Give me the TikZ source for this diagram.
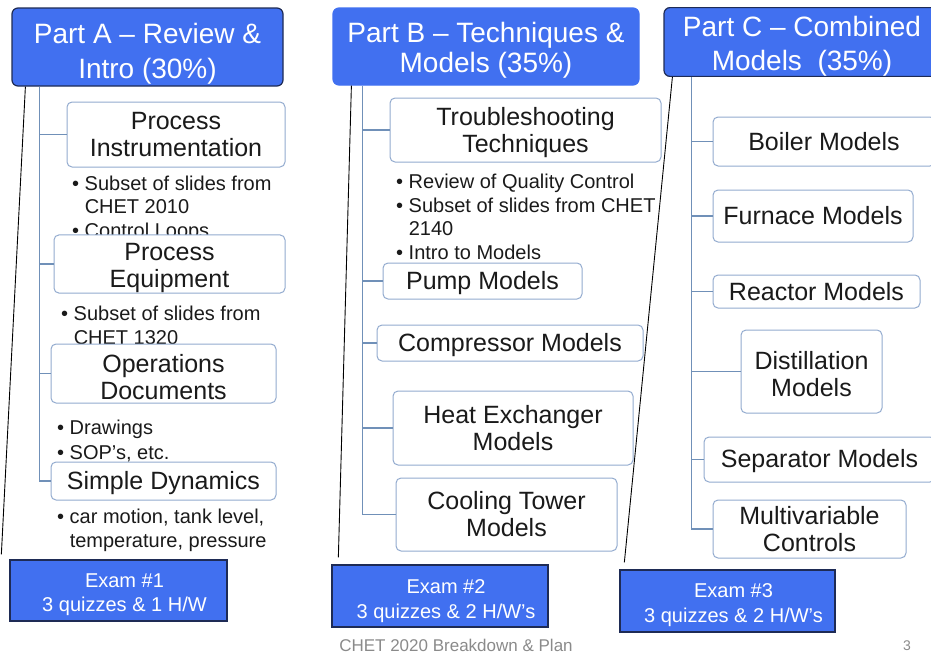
\documentclass[tikz,border=0pt]{standalone}
\usepackage{fontspec}
\setmainfont{Liberation Sans}
\usetikzlibrary{calc}

\definecolor{hdrblue}{HTML}{4170F0}
\definecolor{hdredge}{HTML}{1E2B55}
\definecolor{boxedge}{HTML}{93ABCF}
\definecolor{treeline}{HTML}{7090B8}
\definecolor{inktext}{HTML}{1A1A1A}
\definecolor{footgray}{HTML}{8A8A8A}

% bullet and hanging indent for note lists
\newcommand\itembul{\textbullet\ }
\newcommand\itemhang{\hphantom{\textbullet\ }}
% invisible strut that lowers a label inside its box
\newcommand\lowerby[1]{\rule{0pt}{#1pt}}
\newcommand\examline{\hspace*{12pt}}

\tikzset{
  wh/.style 2 args={minimum width=#1pt, minimum height=#2pt},
  header/.style={fill=hdrblue, draw=hdredge, line width=1.2pt, rounded corners=6pt,
    text=white, align=center, inner sep=0pt},
  topic/.style={fill=white, draw=boxedge, line width=1pt, rounded corners=5pt,
    text=inktext, align=center, font=\fontsize{25}{27}\selectfont, inner sep=0pt},
  exam/.style={fill=hdrblue, draw=hdredge, line width=1.3pt, text=white,
    align=center, font=\fontsize{20}{24.5}\selectfont, inner sep=0pt},
  notes/.style={anchor=base west, align=left, text=inktext,
    font=\fontsize{20}{23.5}\selectfont, inner sep=0pt},
  tree/.style={draw=treeline, line width=1.3pt},
  span/.style={draw=black, line width=0.9pt},
}

\begin{document}
\begin{tikzpicture}[x=1pt, y=-1pt]
\useasboundingbox (0,0) rectangle (931,653);

% ---------- notes (drawn first so the topic boxes sit on top) ----------
% anchor "base" of a multi-line node is the baseline of its last line
\node[notes] (na1) at (72,237)
  {\itembul Subset of slides from\\\itemhang CHET 2010\\\itembul Control Loops};
\node[notes] (na2) at (61,344)
  {\itembul Subset of slides from\\\itemhang CHET 1320};
\node[notes] (na3) at (57,459)
  {\itembul Drawings\\[1.5pt]\itembul SOP’s, etc.};
\node[notes] (na4) at (57,547)
  {\itembul car motion, tank level,\\\itemhang temperature, pressure};
\node[notes] (nb1) at (396,259)
  {\itembul Review of Quality Control\\\itembul Subset of slides from CHET\\\itemhang 2140\\\itembul Intro to Models};

% ---------- Part A ----------
\node[header, wh={271}{78}, font=\fontsize{28}{35}\selectfont] (pa) at (147.5,47)
  {\lowerby{34}Part A – Review \&\\Intro (30\%)};
\node[topic, wh={218}{65}] (pi) at (176,134.5) {Process\\Instrumentation};
\node[topic, wh={231}{58}] (pe) at (169.5,264) {\lowerby{26}Process\\Equipment};
\node[topic, wh={225}{59}] (od) at (163.5,373.5) {\lowerby{26}Operations\\Documents};
\node[topic, wh={225}{38}] (sd) at (163.5,481) {\lowerby{22}Simple Dynamics};
\node[exam, wh={217}{61}] (ea) at (118.5,590.5)
  {\lowerby{22}\examline Exam \#1\\\examline 3 quizzes \& 1 H/W};

\coordinate (ta) at ($(pa.south west)+(28,0)$);
\draw[tree] (ta) |- (sd.west);
\foreach \n in {pi,pe,od} \draw[tree] (ta |- \n.west) -- (\n.west);

% ---------- Part B ----------
\node[header, wh={306}{77}, draw=hdrblue, font=\fontsize{28}{30}\selectfont] (pb) at (486,46.5)
  {\lowerby{28}Part B – Techniques \&\\Models (35\%)};
\node[topic, wh={271}{64}] (tt) at (525.5,130) {\lowerby{24}Troubleshooting\\Techniques};
\node[topic, wh={199}{36}] (pm) at (482.5,281) {\lowerby{23}Pump Models};
\node[topic, wh={266}{36}] (cm) at (510,343) {\lowerby{22}Compressor Models};
\node[topic, wh={240}{74}] (he) at (513,428) {Heat Exchanger\\Models};
\node[topic, wh={221}{73}] (ct) at (506.5,514.5) {Cooling Tower\\Models};
\node[exam, wh={216}{62}] (eb) at (440,596)
  {\lowerby{24}\examline Exam \#2\\\examline 3 quizzes \& 2 H/W’s};

\coordinate (tb) at ($(pb.south west)+(30,0)$);
\draw[tree] (tb) |- (ct.west);
\foreach \n in {tt,pm,cm,he} \draw[tree] (tb |- \n.west) -- (\n.west);

% ---------- Part C ----------
\node[header, wh={276}{68}, font=\fontsize{28}{34}\selectfont] (pc) at (802,42)
  {\lowerby{29}Part C – Combined\\Models\ \ (35\%)};
\node[topic, wh={222}{49}] (bo) at (824,141.5) {Boiler Models};
\node[topic, wh={200}{52}] (fu) at (813,216) {Furnace Models};
\node[topic, wh={207}{33}] (re) at (816.5,291.5) {Reactor Models};
\node[topic, wh={141}{83}] (di) at (811.5,371.5) {\lowerby{24}Distillation\\Models};
\node[topic, wh={231}{45}] (se) at (819.5,459.5) {\lowerby{21}Separator Models};
\node[topic, wh={193}{58}] (mc) at (809.5,529) {Multivariable\\Controls};
\node[exam, wh={215}{62}] (ec) at (727.5,601)
  {\lowerby{22}\examline Exam \#3\\\examline 3 quizzes \& 2 H/W’s};

\coordinate (tc) at ($(pc.south west)+(28,0)$);
\draw[tree] (tc) |- (mc.west);
\foreach \n in {bo,fu,re,di,se} \draw[tree] (tc |- \n.west) -- (\n.west);

% ---------- part-to-exam spans ----------
\coordinate (xa) at ($(ea.north west)+(-8,-5)$);
\coordinate (xb) at ($(eb.north west)+(7,-7)$);
\coordinate (xc) at ($(ec.north west)+(5,-7)$);
\draw[span] ($(pa.south west)+(14,0)$) -- (xa);
\draw[span] ($(pb.south west)+(19,0)$) -- (xb);
\draw[span] ($(pc.south west)+(9,0)$) -- (xc);

% ---------- footer ----------
\node[text=footgray, font=\fontsize{17}{20}\selectfont, inner sep=0pt] (ft) at (456,645) {CHET 2020 Breakdown \& Plan};
\node[text=footgray, font=\fontsize{14}{16}\selectfont, inner sep=0pt] (pg) at (907,646) {3};
\end{tikzpicture}
\end{document}
